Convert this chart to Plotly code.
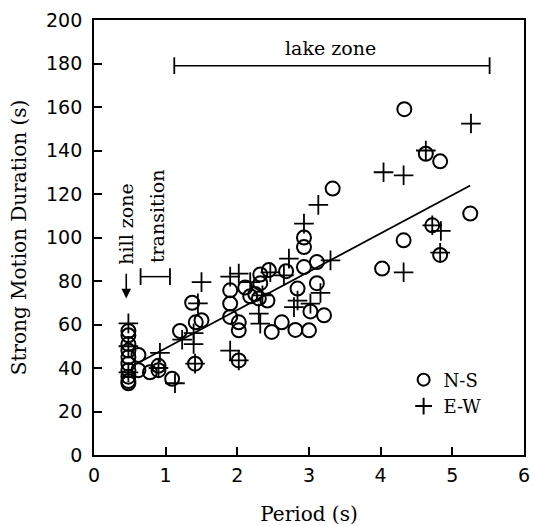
import plotly.graph_objects as go

# N-S (open circles)
ns_period = [0.48, 0.48, 0.48, 0.48, 0.48, 0.48, 0.48, 0.48, 0.48, 0.48,
             0.62, 0.62, 0.78, 0.90, 0.90, 1.09,
             1.20, 1.37, 1.42, 1.50, 1.41,
             1.90, 1.90, 1.90, 2.02, 2.02, 2.02, 2.11, 2.18,
             2.44, 2.32, 2.32, 2.25, 2.30, 2.42,
             2.48, 2.62, 2.81, 3.00, 3.21, 3.02, 2.84, 3.11, 2.68,
             2.93, 2.93, 2.93, 3.11, 3.33,
             4.33, 4.63, 4.83, 5.25, 4.72, 4.32, 4.83, 4.02]
ns_duration = [57, 55, 51, 48, 45, 42, 39, 36, 34, 33,
               46, 39, 38, 41, 39, 35,
               57, 70, 61, 62, 42,
               75.7, 69.6, 63.5, 61, 57.3, 43.5, 77, 73,
               85, 83, 79, 74, 72, 71,
               56.6, 61, 57.5, 57.3, 64.2, 66, 76.5, 79, 84.5,
               100, 95.6, 86.4, 88.7, 122.5,
               159, 138.5, 135, 111, 105.6, 98.7, 92, 85.7]

# E-W (plus signs)
ew_period = [0.48, 0.48, 0.48,
             0.92, 0.90, 1.13, 1.23, 1.39, 1.39, 1.45, 1.50, 1.41,
             1.90, 2.02, 1.90, 2.02, 2.18, 2.35, 2.30, 2.32, 2.46, 2.65,
             2.72, 2.93, 3.30, 2.84, 2.79, 3.02, 3.16, 3.13,
             4.63, 5.26, 4.04, 4.32, 4.72, 4.84, 4.83, 4.32]
ew_duration = [60.5, 50, 38,
               47, 40, 33, 53, 56, 51, 69.7, 79.5, 42,
               82, 83.4, 48, 43.5, 79.5, 73.4, 65, 60.4, 84, 82.6,
               90.3, 106.4, 89.5, 71, 68, 69.6, 74.5, 115,
               140, 152.4, 130, 128.6, 105.6, 103, 93, 84]

# regression line
fit_period = [0.62, 5.25]
fit_intercept = 31.5
fit_slope = 17.6
fit_duration = [fit_intercept + fit_slope * p for p in fit_period]

# zone markers
lake_zone_period = [1.12, 5.52]
lake_zone_level = [179, 179]
transition_period = [0.65, 1.06]
transition_level = [82, 82]

x_ticks = [0, 1, 2, 3, 4, 5, 6]
y_ticks = [0, 20, 40, 60, 80, 100, 120, 140, 160, 180, 200]

SERIF = "DejaVu Serif"
SANS = "DejaVu Sans"

fig = go.Figure()

fig.add_trace(go.Scatter(
    x=fit_period, y=fit_duration, mode="lines",
    line=dict(color="black", width=1.8), showlegend=False, hoverinfo="skip"))

fig.add_trace(go.Scatter(
    x=ns_period, y=ns_duration, mode="markers", name="N-S",
    marker=dict(symbol="circle-open", size=14, color="black",
                line=dict(width=2, color="black"))))

fig.add_trace(go.Scatter(
    x=ew_period, y=ew_duration, mode="markers", name="E-W",
    marker=dict(symbol="cross-thin-open", size=14, color="black",
                line=dict(width=1.8, color="black"))))

for xs, ys in [(lake_zone_period, lake_zone_level), (transition_period, transition_level)]:
    fig.add_trace(go.Scatter(
        x=xs, y=ys, mode="lines+markers", showlegend=False, hoverinfo="skip",
        line=dict(color="black", width=1.5),
        marker=dict(symbol="line-ns-open", size=12, color="black",
                    line=dict(width=1.8, color="black"))))

annotations = [
    dict(x=3.3, y=181, xref="x", yref="y", text="lake zone", showarrow=False,
         yanchor="bottom", font=dict(family=SERIF, size=19, color="black")),
    dict(x=0.45, y=106, xref="x", yref="y", text="hill zone", showarrow=False,
         textangle=-90, font=dict(family=SERIF, size=19, color="black")),
    dict(x=0.87, y=110, xref="x", yref="y", text="transition", showarrow=False,
         textangle=-90, font=dict(family=SERIF, size=19, color="black")),
    dict(x=0.45, y=72, xref="x", yref="y", ax=0.45, ay=84, axref="x", ayref="y",
         text="", showarrow=True, arrowhead=2, arrowsize=1.2, arrowwidth=1.6,
         arrowcolor="black"),
]

fig.update_layout(
    width=533, height=526,
    margin=dict(l=94, r=9, t=20, b=71, autoexpand=False),
    paper_bgcolor="white", plot_bgcolor="white",
    annotations=annotations,
    showlegend=True,
    legend=dict(x=0.72, y=0.215, xanchor="left", yanchor="top",
                bgcolor="rgba(0,0,0,0)", font=dict(family=SERIF, size=18, color="black"),
                itemsizing="constant", tracegroupgap=0),
    xaxis=dict(range=[0, 6], tickvals=x_ticks, ticks="inside", ticklen=8,
               tickwidth=1.5, tickcolor="black", showline=True, linecolor="black",
               linewidth=1.8, mirror=True, showgrid=False, zeroline=False,
               automargin=False, ticklabelstandoff=2,
               tickfont=dict(family=SANS, size=19, color="black"),
               title=dict(text="Period (s)", standoff=22,
                          font=dict(family=SERIF, size=20, color="black"))),
    yaxis=dict(range=[0, 200], tickvals=y_ticks, ticks="inside", ticklen=8,
               tickwidth=1.5, tickcolor="black", showline=True, linecolor="black",
               linewidth=1.8, mirror=True, showgrid=False, zeroline=False,
               automargin=False, ticklabelstandoff=6,
               tickfont=dict(family=SANS, size=19, color="black"),
               title=dict(text="Strong Motion Duration (s)", standoff=14,
                          font=dict(family=SERIF, size=20, color="black"))),
)

fig.write_html("out.html", config={"displayModeBar": False},
               post_script="document.body.style.margin='0';")
